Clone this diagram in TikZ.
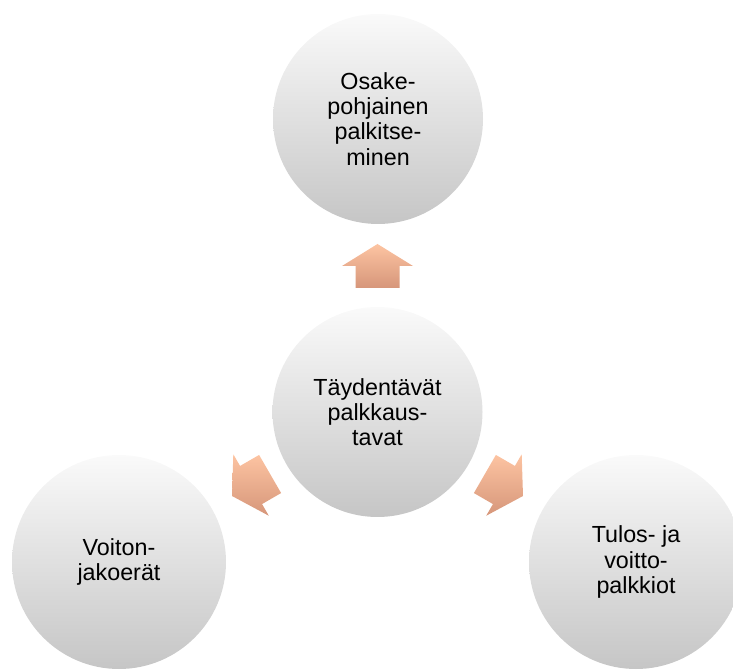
\documentclass[tikz,border=0pt]{standalone}
\usepackage{fontspec}
\setmainfont{Liberation Sans}
\usetikzlibrary{calc}
\tikzset{
	pallo/.style={circle, minimum size=210pt, inner sep=0pt, align=center, top color=gray!4, bottom color=gray!45, shading angle=0},
	nuoli/.style={top color={rgb,255:red,253;green,196;blue,162}, bottom color={rgb,255:red,214;green,150;blue,122}}
}
\begin{document}
\begin{tikzpicture}[x=1pt, y=1pt, font=\fontsize{23.3}{25.3}\selectfont, line join=round]
			\def\w{733}\def\h{669}\def\etai{146}
			\clip (0,0) rectangle (\w,\h);
			\useasboundingbox (0,0) rectangle (\w,\h);
			\node[pallo] (keski) at (377.5,257) {Täydentävät\\palkkaus-\\tavat};
			\node[pallo] (ylä) at (378,550) {Osake-\\pohjainen\\palkitse-\\minen};
			\node[pallo, minimum size=214pt] (vasen) at (119,107) {Voiton-\\jakoerät};
			\node[pallo, minimum size=214pt] (oikea) at (636,107) {Tulos- ja\\voitto-\\palkkiot};
			\foreach \a in {90,210,330}{
				\coordinate (k\a) at ($(keski)+(\a:\etai)$);
				\shade[nuoli] ($(k\a)+(\a:22)$) -- ($(k\a)+(\a+90:35.5)$) -- ($(k\a)+(\a+90:22)$)
				-- ($(k\a)+(\a+180:22)+(\a+90:22)$) -- ($(k\a)+(\a+180:22)+(\a-90:22)$)
				-- ($(k\a)+(\a-90:22)$) -- ($(k\a)+(\a-90:35.5)$) -- cycle;
			}
		\end{tikzpicture}
\end{document}
